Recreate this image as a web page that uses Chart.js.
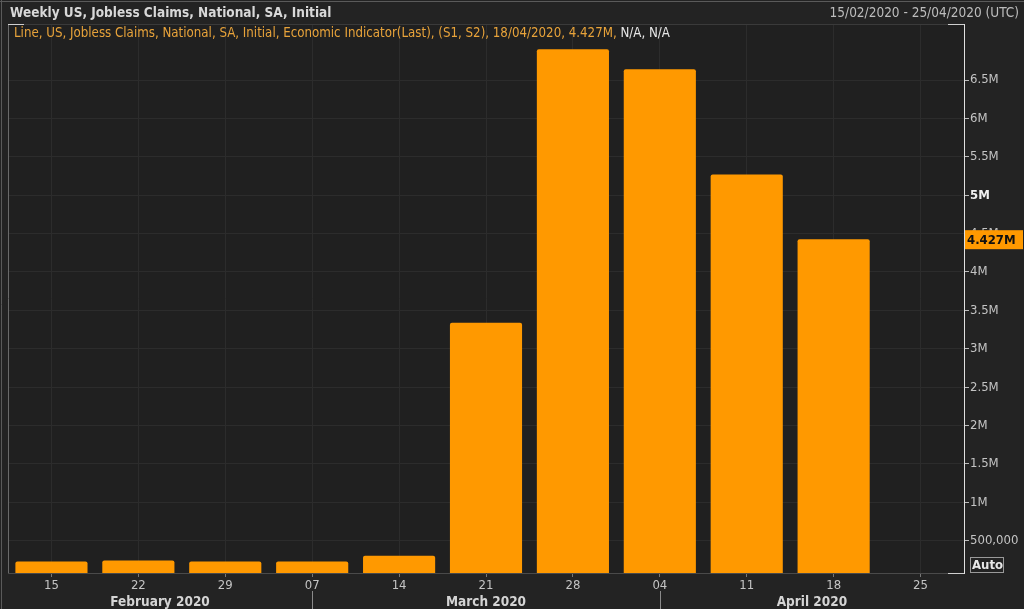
<!DOCTYPE html>
<html>
<head>
<meta charset="utf-8">
<script src="https://cdn.jsdelivr.net/npm/chart.js@4"></script>
<style>
  html, body { margin: 0; padding: 0; background: #232323; }
  #wrap { position: relative; width: 1024px; height: 609px; }
</style>
</head>
<body>
<div id="wrap"><canvas id="myChart" width="1024" height="609"></canvas></div>
<script>
var FONT = '"Liberation Sans Narrow", "DejaVu Sans Condensed", "Liberation Sans", sans-serif';

var weekLabels = ['15', '22', '29', '07', '14', '21', '28', '04', '11', '18', '25'];
var claims = [230000, 242000, 230000, 230000, 305000, 3340000, 6900000, 6640000, 5270000, 4427000, null];
var yTicks = [500000, 1000000, 1500000, 2000000, 2500000, 3000000, 3500000, 4000000, 4500000, 5000000, 5500000, 6000000, 6500000];
var yTickLabels = ['500,000', '1M', '1.5M', '2M', '2.5M', '3M', '3.5M', '4M', '4.5M', '5M', '5.5M', '6M', '6.5M'];
var monthLabels = ['February 2020', 'March 2020', 'April 2020'];
var monthBreaks = [3, 7]; // category index where a new month's separator sits

var title = 'Weekly US, Jobless Claims, National, SA, Initial';
var dateRange = '15/02/2020 - 25/04/2020 (UTC)';
var legendText = 'Line, US, Jobless Claims, National, SA, Initial, Economic Indicator(Last), (S1, S2), 18/04/2020, 4.427M,';
var legendTail = ' N/A, N/A';
var lastLabel = '4.427M';

var ORANGE = '#ff9900';

var decor = {
    id: 'decor',
    beforeDraw: function (chart) {
        var c = chart.ctx, a = chart.chartArea;
        c.save();
        c.fillStyle = '#232323';
        c.fillRect(0, 0, chart.width, chart.height);
        c.fillStyle = '#202020';
        c.fillRect(a.left, a.top, a.right - a.left, a.bottom - a.top);
        c.restore();
    },
    afterDraw: function (chart) {
        var c = chart.ctx, a = chart.chartArea;
        var x = chart.scales.x, y = chart.scales.y;
        c.save();
        // outer frame
        c.strokeStyle = '#5a5a5a';
        c.lineWidth = 1;
        c.beginPath();
        c.moveTo(0, 1.5); c.lineTo(chart.width, 1.5);
        c.moveTo(1.5, 0); c.lineTo(1.5, chart.height);
        c.stroke();
        // plot frame left / top
        c.strokeStyle = '#6a6a6a';
        c.beginPath();
        c.moveTo(a.left + 0.5, a.top); c.lineTo(a.left + 0.5, a.bottom);
        c.stroke();
        c.strokeStyle = '#3a3a3a';
        c.beginPath();
        c.moveTo(a.left, a.top + 0.5); c.lineTo(a.right, a.top + 0.5);
        c.stroke();
        c.strokeStyle = '#cfcfcf';
        c.beginPath();
        c.moveTo(a.left, a.top + 0.5); c.lineTo(a.left + 16, a.top + 0.5);
        c.moveTo(a.right - 16, a.top + 0.5); c.lineTo(a.right, a.top + 0.5);
        c.moveTo(a.right - 16, a.bottom + 0.5); c.lineTo(a.right, a.bottom + 0.5);
        c.stroke();

        // header
        c.textBaseline = 'middle';
        c.font = 'bold 13.5px ' + FONT;
        c.fillStyle = '#d8d8d8';
        c.textAlign = 'left';
        c.fillText(title, 10, 13);
        c.font = '13.5px ' + FONT;
        c.fillStyle = '#bdbdbd';
        c.textAlign = 'right';
        c.fillText(dateRange, 1019, 13);

        // legend line
        c.textAlign = 'left';
        c.font = '13.2px ' + FONT;
        c.fillStyle = '#e8a33a';
        c.fillText(legendText, 14, 34);
        var w = c.measureText(legendText).width;
        c.fillStyle = '#e6e6e6';
        c.fillText(legendTail, 14 + w, 34);

        // last value label on the axis
        var ly = y.getPixelForValue(claims[9]);
        c.fillStyle = ORANGE;
        c.fillRect(a.right + 1, ly - 9, 58, 19);
        c.fillStyle = '#111111';
        c.font = 'bold 13px ' + FONT;
        c.fillText(lastLabel, a.right + 3, ly + 1);

        // Auto box
        c.strokeStyle = '#9a9a9a';
        c.strokeRect(970.5, 557.5, 33, 15);
        c.fillStyle = '#e8e8e8';
        c.font = 'bold 13px ' + FONT;
        c.fillText('Auto', 972, 566);

        // month row
        var edges = [a.left];
        monthBreaks.forEach(function (i) { edges.push(x.getPixelForValue(i)); });
        edges.push(a.right);
        c.strokeStyle = '#8a8a8a';
        c.beginPath();
        monthBreaks.forEach(function (i) {
            var px = Math.round(x.getPixelForValue(i)) + 0.5;
            c.moveTo(px, 591); c.lineTo(px, 609);
        });
        c.stroke();
        c.font = 'bold 13.5px ' + FONT;
        c.fillStyle = '#d4d4d4';
        c.textAlign = 'center';
        monthLabels.forEach(function (m, i) {
            c.fillText(m, (edges[i] + edges[i + 1]) / 2, 602);
        });
        c.restore();
    }
};

const ctx = document.getElementById('myChart').getContext('2d');
const myChart = new Chart(ctx, {
    type: 'bar',
    data: {
        labels: weekLabels,
        datasets: [{
            data: claims,
            backgroundColor: ORANGE,
            borderRadius: 2,
            borderSkipped: 'bottom',
            barPercentage: 0.83,
            categoryPercentage: 1
        }]
    },
    options: {
        responsive: false,
        animation: false,
        layout: { padding: { top: 24, left: 8, right: 0, bottom: 0 } },
        plugins: { legend: { display: false }, tooltip: { enabled: false } },
        scales: {
            x: {
                offset: true,
                grid: { offset: false, color: '#2c2c2c', tickColor: '#777', tickLength: 4, drawOnChartArea: true },
                border: { color: '#4a4a4a' },
                ticks: { color: '#c4c4c4', font: { family: FONT, size: 13 }, padding: 1, maxRotation: 0, autoSkip: false },
                afterFit: function (s) { s.height = 36; }
            },
            y: {
                position: 'right',
                min: 79000,
                max: 7230000,
                afterBuildTicks: function (s) {
                    s.ticks = yTicks.map(function (v) { return { value: v }; });
                },
                afterFit: function (s) { s.width = 60; },
                grid: { color: '#2c2c2c', tickColor: '#bbbbbb', tickLength: 5 },
                border: { color: '#e0e0e0' },
                ticks: {
                    padding: 1,
                    color: function (c) { return c.tick && c.tick.value === 5000000 ? '#f0f0f0' : '#c4c4c4'; },
                    font: function (c) {
                        return { family: FONT, size: 13, weight: c.tick && c.tick.value === 5000000 ? 'bold' : 'normal' };
                    },
                    callback: function (v) {
                        var i = yTicks.indexOf(v);
                        return i >= 0 ? yTickLabels[i] : '';
                    }
                }
            }
        }
    },
    plugins: [decor]
});
</script>
</body>
</html>
